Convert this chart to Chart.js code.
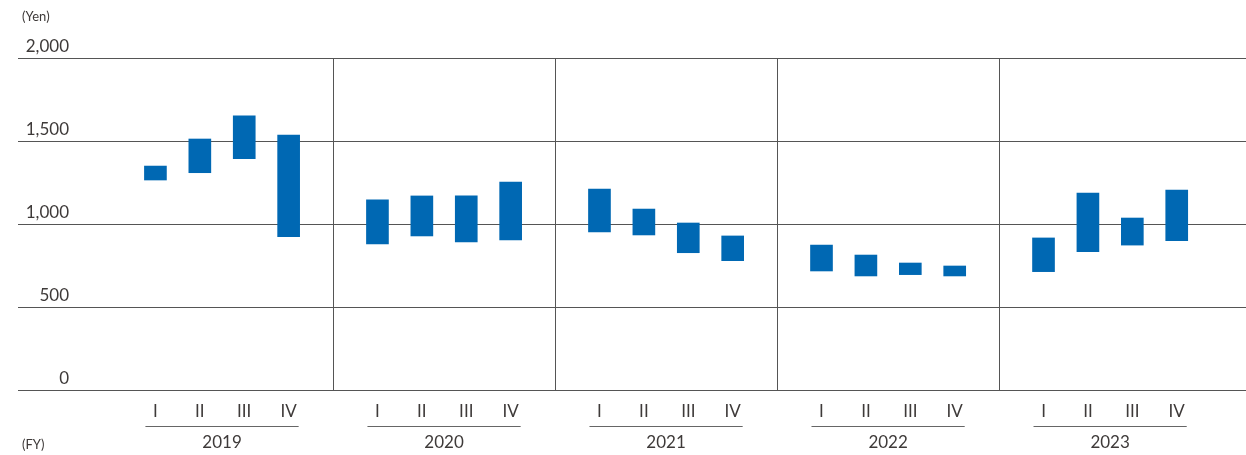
<!DOCTYPE html>
<html>
<head>
<meta charset="utf-8">
<script src="https://cdn.jsdelivr.net/npm/chart.js@4.4.1/dist/chart.umd.min.js"></script>
<style>
  html, body { margin: 0; padding: 0; background: #fff; overflow: hidden; }
  #wrap { width: 1246px; height: 455px; position: relative; }
</style>
</head>
<body>
<div id="wrap"><canvas id="priceChart"></canvas></div>
<script>
// ===== data =====
const years = ['2019', '2020', '2021', '2022', '2023'];
const quarters = ['I', 'II', 'III', 'IV'];
const lows  = [1265, 1309, 1393, 924,   880, 928, 892, 904,   952, 934, 827, 779,   717, 687, 695, 687,   713, 833, 873, 899];
const highs = [1349, 1512, 1651, 1536,  1145, 1169, 1169, 1253, 1211, 1090, 1006, 928, 873, 813, 765, 747,  916, 1187, 1036, 1205];
const yTicks = [0, 500, 1000, 1500, 2000];

// each fiscal year takes 5 slots, quarters sit at slots 1..4
const xPos = [];
years.forEach((y, g) => quarters.forEach((q, i) => xPos.push(g * 5 + i + 1)));

const points = xPos.map((x, i) => ({ x: x, y: [lows[i], highs[i]] }));

const textColor = '#3e3a39';
const lineColor = '#555';
const fontFamily = 'Lato, "Noto Sans", sans-serif';

// ===== extra drawing: separators, y labels, year groups =====
const decor = {
  id: 'decor',
  beforeDatasetsDraw(chart) {
    const { ctx, chartArea, scales } = chart;
    const x = scales.x;
    ctx.save();
    ctx.strokeStyle = lineColor;
    ctx.lineWidth = 1;
    for (let g = 1; g < years.length; g++) {
      const px = Math.round(x.getPixelForValue(g * 5)) + 0.5;
      ctx.beginPath();
      ctx.moveTo(px, chartArea.top);
      ctx.lineTo(px, chartArea.bottom);
      ctx.stroke();
    }
    ctx.restore();
  },
  afterDraw(chart) {
    const { ctx, chartArea, scales } = chart;
    const x = scales.x, y = scales.y;
    ctx.save();
    ctx.fillStyle = textColor;

    // y labels sit above the grid lines
    ctx.font = '17px ' + fontFamily;
    ctx.textAlign = 'right';
    ctx.textBaseline = 'alphabetic';
    yTicks.forEach(v => {
      ctx.fillText(v.toLocaleString('en-US'), chartArea.left + 51, y.getPixelForValue(v) - 6);
    });

    // year underline + label
    ctx.textAlign = 'center';
    ctx.textBaseline = 'middle';
    ctx.strokeStyle = '#666';
    ctx.lineWidth = 1;
    years.forEach((yr, g) => {
      const x1 = x.getPixelForValue(g * 5 + 1) - 10;
      const x4 = x.getPixelForValue(g * 5 + 4) + 10;
      ctx.beginPath();
      ctx.moveTo(x1, 426.5);
      ctx.lineTo(x4, 426.5);
      ctx.stroke();
      ctx.fillText(yr, (x1 + x4) / 2, 443);
    });

    // units
    ctx.font = '13px ' + fontFamily;
    ctx.textAlign = 'left';
    ctx.fillText('(Yen)', 22, 17);
    ctx.fillText('(FY)', 22, 445);
    ctx.restore();
  }
};

new Chart(document.getElementById('priceChart'), {
  type: 'bar',
  data: {
    datasets: [{
      label: 'Stock price range',
      data: points,
      backgroundColor: '#0068b3',
      borderWidth: 0,
      barThickness: 22
    }]
  },
  options: {
    responsive: true,
    maintainAspectRatio: false,
    animation: false,
    layout: { padding: { left: 18, top: 58, right: 0, bottom: 0 } },
    plugins: {
      legend: { display: false },
      tooltip: { enabled: false }
    },
    scales: {
      x: {
        type: 'linear',
        offset: false,
        min: -2.095,
        max: 25.56,
        grid: { display: false, drawTicks: false, offset: false },
        border: { display: false },
        afterBuildTicks: scale => { scale.ticks = xPos.map(v => ({ value: v })); },
        afterFit: scale => {
          scale.height = 65;
          scale.paddingLeft = 0;
          scale.paddingRight = 0;
        },
        ticks: {
          autoSkip: false,
          maxRotation: 0,
          padding: 11,
          color: textColor,
          font: { family: fontFamily, size: 17 },
          callback: v => quarters[((v - 1) % 5 + 5) % 5] || ''
        }
      },
      y: {
        min: 0,
        max: 2000,
        ticks: { display: false, stepSize: 500 },
        grid: { color: lineColor, lineWidth: 1, drawTicks: false },
        border: { display: false },
        afterFit: scale => {
          scale.width = 0;
          scale.paddingTop = 0;
          scale.paddingBottom = 0;
        }
      }
    }
  },
  plugins: [decor]
});
</script>
</body>
</html>
